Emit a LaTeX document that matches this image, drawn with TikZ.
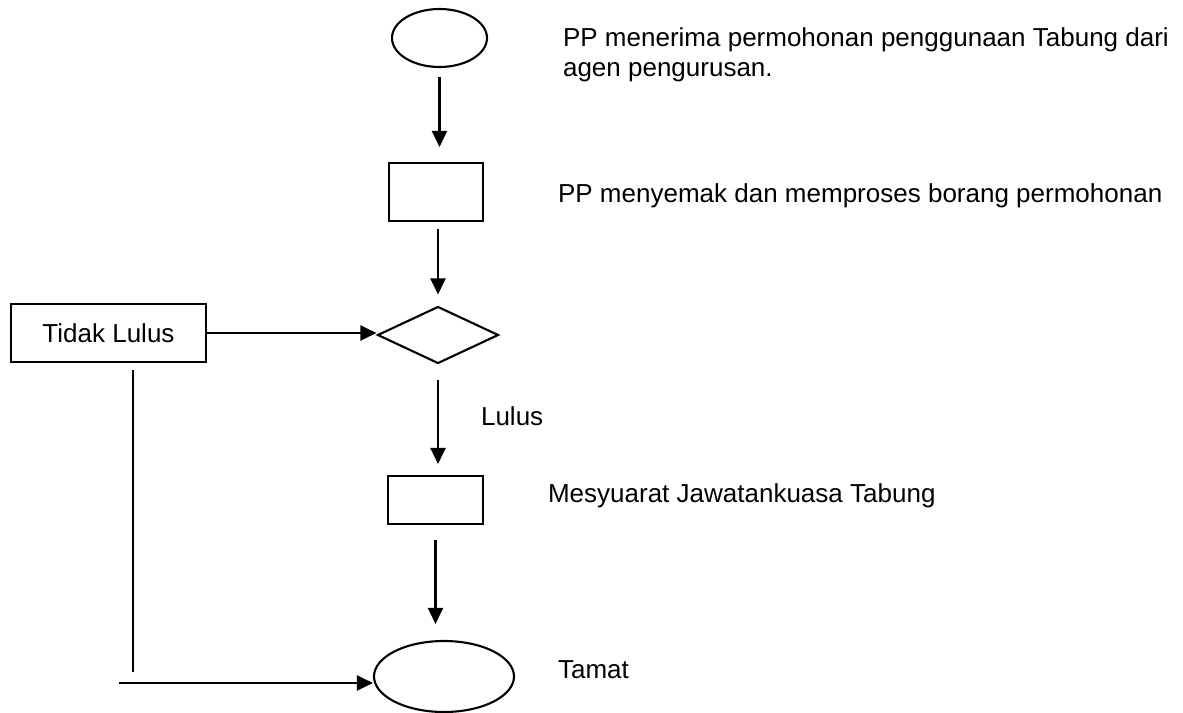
\documentclass[tikz,border=0pt]{standalone}
\usepackage{fontspec}
\setmainfont{Liberation Sans}
\usetikzlibrary{shapes.geometric,arrows.meta}

\tikzset{
  flow/.style={-{Triangle[length=0.16cm,width=0.15cm]}},
  box/.style={draw,rectangle,inner sep=0pt},
  oval/.style={draw,ellipse,inner sep=0pt},
  desc/.style={anchor=base west,inner sep=0pt}
}

\begin{document}
\begin{tikzpicture}[line width=0.6pt, font=\fontsize{7.4}{8.3}\selectfont]
    \useasboundingbox (0,0) rectangle (11.83,-7.13);

    % Start: application received
    \node[oval,minimum width=0.95cm,minimum height=0.58cm] (start) at (4.395,-0.38) {};
    \node[inner sep=0pt,anchor=north west,align=left] (startText) at (5.62,-0.27)
        {PP menerima permohonan penggunaan Tabung dari\\agen pengurusan.};

    % Check the form
    \node[box,minimum width=0.94cm,minimum height=0.58cm] (check) at (4.36,-1.92) {};
    \node[desc] (checkText) at (5.57,-2.02) {PP menyemak dan memproses borang permohonan};

    % Decision
    \node[draw,diamond,inner sep=0pt,minimum width=1.21cm,minimum height=0.57cm] (decide) at (4.38,-3.35) {};
    \node[box,minimum width=1.95cm,minimum height=0.58cm] (tidak) at (1.085,-3.33) {Tidak Lulus};

    % Committee meeting
    \node[box,minimum width=0.95cm,minimum height=0.48cm] (meeting) at (4.355,-5.00) {};
    \node[desc] (meetingText) at (5.47,-5.02) {Mesyuarat Jawatankuasa Tabung};

    % End
    \node[oval,minimum width=1.40cm,minimum height=0.71cm] (stop) at (4.44,-6.765) {};
    \node[desc] (stopText) at (5.57,-6.78) {Tamat};

    % Arrows down the main line
    \draw[flow,shorten <=0.09cm,shorten >=0.15cm] (start) -- (start |- check.north);
    \draw[flow,shorten <=0.07cm,shorten >=0.11cm] (decide |- check.south) -- (decide);
    \draw[flow,shorten <=0.15cm,shorten >=0.11cm] (decide) -- (decide |- meeting.north)
        node[desc,pos=0.55,xshift=0.42cm] (lulus) {Lulus};
    \draw[flow,shorten <=0.15cm,shorten >=0.16cm] (meeting) -- (meeting |- stop.north);

    % Rejected branch
    \draw[flow] (tidak.east) -- (tidak.east -| decide.west);
    \coordinate (corner) at (1.33,-6.72);
    \coordinate (entry) at (1.19,-6.83);
    \draw[shorten <=0.07cm] (tidak.south -| corner) -- (corner);
    \draw[flow] (entry) -- (entry -| stop.west);
\end{tikzpicture}
\end{document}
